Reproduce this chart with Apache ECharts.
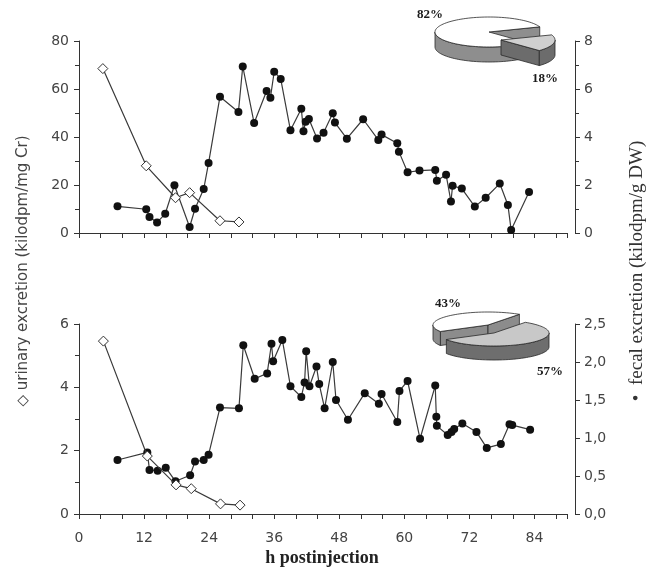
<!DOCTYPE html>
<html><head><meta charset="utf-8">
<script src="https://cdn.jsdelivr.net/npm/echarts@6/dist/echarts.min.js"></script>
<style>html,body{margin:0;padding:0;background:#fff}#c{width:652px;height:571px}</style>
</head><body><div id="c"></div>
<script>
// ---- data ----
const xTickLabels = [0, 12, 24, 36, 48, 60, 72, 84];

const topUrinH   = [4.4, 12.4, 17.8, 20.4, 26.0, 29.5];
const topUrinVal = [68.5, 28.0, 14.7, 16.8, 5.1, 4.6];

const topFecalH   = [7.1, 12.4, 13.0, 14.4, 15.9, 17.6, 20.4, 21.4, 23.0, 23.9, 26.0, 29.4, 30.2, 32.3, 34.6, 35.3, 36.0, 37.2, 39.0, 41.0, 41.4, 41.8, 42.4, 43.9, 45.1, 46.8, 47.2, 49.4, 52.4, 55.2, 55.8, 58.7, 59.0, 60.6, 62.8, 65.7, 66.0, 67.7, 68.6, 68.9, 70.6, 73.0, 75.0, 77.6, 79.1, 79.7, 83.0];
const topFecalVal = [1.11, 0.99, 0.67, 0.44, 0.80, 1.99, 0.25, 1.01, 1.83, 2.92, 5.68, 5.04, 6.94, 4.58, 5.92, 5.64, 6.72, 6.42, 4.28, 5.18, 4.24, 4.64, 4.75, 3.94, 4.18, 4.99, 4.60, 3.93, 4.74, 3.88, 4.10, 3.74, 3.39, 2.53, 2.60, 2.63, 2.18, 2.43, 1.31, 1.97, 1.85, 1.10, 1.47, 2.06, 1.17, 0.12, 1.71];

const botUrinH   = [4.5, 12.6, 17.9, 20.7, 26.1, 29.7];
const botUrinVal = [5.46, 1.83, 0.92, 0.80, 0.32, 0.28];

const botFecalH   = [7.1, 12.6, 13.0, 14.5, 16.0, 17.8, 20.5, 21.4, 23.0, 23.9, 26.0, 29.5, 30.3, 32.4, 34.7, 35.5, 35.8, 37.5, 39.0, 41.0, 41.6, 41.9, 42.5, 43.8, 44.3, 45.3, 46.8, 47.4, 49.6, 52.7, 55.3, 55.8, 58.7, 59.1, 60.6, 62.9, 65.7, 65.9, 66.0, 68.0, 68.7, 69.2, 70.7, 73.3, 75.2, 77.8, 79.4, 79.9, 83.2];
const botFecalVal = [0.71, 0.81, 0.58, 0.57, 0.61, 0.43, 0.51, 0.69, 0.71, 0.78, 1.40, 1.39, 2.22, 1.78, 1.85, 2.24, 2.01, 2.29, 1.68, 1.54, 1.73, 2.14, 1.68, 1.94, 1.71, 1.39, 2.00, 1.50, 1.24, 1.59, 1.45, 1.58, 1.21, 1.62, 1.75, 0.99, 1.69, 1.28, 1.16, 1.04, 1.08, 1.12, 1.19, 1.08, 0.87, 0.92, 1.18, 1.17, 1.11];

const topPie = [82, 18];
const botPie = [43, 57];

// ---- helpers ----
const zip = (a, b) => a.map((v, i) => [v, b[i]]);
const SANS = '"DejaVu Sans", sans-serif';
const SERIF = '"Liberation Serif", "Times New Roman", serif';
const AX = '#333';

function makePie(vals, cfg) {
  const total = vals.reduce((a, b) => a + b, 0);
  const starts = []; let acc = 0;
  vals.forEach(v => { starts.push(cfg.start + 360 * acc / total); acc += v; });
  return {
    type: 'custom', coordinateSystem: 'none', silent: true, animation: false, z: 10,
    data: vals.map(v => [v]),
    renderItem: function (params, api) {
      const i = params.dataIndex;
      const v = api.value(0);
      const a0 = starts[i], a1 = a0 + 360 * v / total;
      const off = cfg.offsets[i];
      const cx = cfg.cx + off[0], cy = cfg.cy + off[1], h = cfg.h;
      const rad = d => d * Math.PI / 180;
      const P = (d, dz) => [cx + cfg.rx * Math.cos(rad(d)), cy + cfg.ry * Math.sin(rad(d)) + (dz || 0)];
      const arc = (lo, hi, dz) => {
        const pts = []; const n = Math.max(2, Math.ceil((hi - lo) / 3));
        for (let k = 0; k <= n; k++) pts.push(P(lo + (hi - lo) * k / n, dz));
        return pts;
      };
      let z2 = i * 10;
      const poly = (pts, fill) => ({ type: 'polygon', z2: z2++, shape: { points: pts },
        style: { fill: fill, stroke: '#2a2a2a', lineWidth: 0.8, lineJoin: 'round' } });
      const ch = [];
      const side = cfg.side[i], topc = cfg.top[i];
      if (Math.cos(rad(a0)) < 0) ch.push(poly([[cx, cy], P(a0), P(a0, h), [cx, cy + h]], side));
      if (Math.cos(rad(a1)) > 0) ch.push(poly([[cx, cy], P(a1), P(a1, h), [cx, cy + h]], side));
      [-360, 0, 360].forEach(base => {
        const lo = Math.max(a0, base), hi = Math.min(a1, base + 180);
        if (hi > lo) ch.push(poly(arc(lo, hi, 0).concat(arc(lo, hi, h).reverse()), side));
      });
      ch.push(poly([[cx, cy]].concat(arc(a0, a1, 0)), topc));
      ch.push({ type: 'text', z2: z2++, x: cfg.labels[i][0], y: cfg.labels[i][1],
        style: { text: vals[i] + '%', font: 'bold 13px ' + SERIF, fill: '#1a1a1a', align: 'center', verticalAlign: 'middle' } });
      return { type: 'group', children: ch };
    }
  };
}

function xAx(gi, showLabels) {
  return {
    gridIndex: gi, type: 'value', min: 0, max: 90, interval: 4,
    axisLine: { show: true, onZero: false, lineStyle: { color: AX, width: 1 } },
    axisTick: { show: true, length: 5, lineStyle: { color: AX } },
    axisLabel: { show: showLabels, margin: 17, color: '#444', fontFamily: SANS, fontSize: 14,
      formatter: v => (xTickLabels.indexOf(v) >= 0 ? String(v) : '') },
    splitLine: { show: false }
  };
}
function yAx(gi, pos, max, interval, minor, fmt) {
  const o = {
    gridIndex: gi, type: 'value', position: pos, min: 0, max: max, interval: interval,
    offset: pos === 'right' ? 8 : 0,
    axisLine: { show: true, onZero: false, lineStyle: { color: AX, width: 1 } },
    axisTick: { show: true, length: 5, lineStyle: { color: AX } },
    minorTick: { show: minor, splitNumber: 2, length: 4, lineStyle: { color: AX } },
    axisLabel: { margin: pos === 'right' ? 9 : 10, color: '#444', fontFamily: SANS, fontSize: 14 },
    splitLine: { show: false }
  };
  if (fmt) o.axisLabel.formatter = fmt;
  return o;
}

const lineStyle = { color: '#3a3a3a', width: 1.2 };
const urinItem = { color: '#fff', borderColor: '#333', borderWidth: 1 };
const fecalItem = { color: '#111' };

const option = {
  animation: false,
  backgroundColor: '#fff',
  grid: [
    { left: 79, top: 41, width: 488, height: 192, containLabel: false },
    { left: 79, top: 324, width: 488, height: 190, containLabel: false }
  ],
  xAxis: [xAx(0, false), xAx(1, true)],
  yAxis: [
    yAx(0, 'left', 80, 20, true),
    yAx(0, 'right', 8, 2, true),
    yAx(1, 'left', 6, 2, true),
    yAx(1, 'right', 2.5, 0.5, false, v => v.toFixed(1).replace('.', ','))
  ],
  series: [
    { type: 'line', xAxisIndex: 0, yAxisIndex: 0, data: zip(topUrinH, topUrinVal), symbol: 'diamond', symbolSize: 10,
      showAllSymbol: true, lineStyle: lineStyle, itemStyle: urinItem, z: 3 },
    { type: 'line', xAxisIndex: 0, yAxisIndex: 1, data: zip(topFecalH, topFecalVal), symbol: 'circle', symbolSize: 8,
      showAllSymbol: true, lineStyle: lineStyle, itemStyle: fecalItem, z: 2 },
    { type: 'line', xAxisIndex: 1, yAxisIndex: 2, data: zip(botUrinH, botUrinVal), symbol: 'diamond', symbolSize: 10,
      showAllSymbol: true, lineStyle: lineStyle, itemStyle: urinItem, z: 3 },
    { type: 'line', xAxisIndex: 1, yAxisIndex: 3, data: zip(botFecalH, botFecalVal), symbol: 'circle', symbolSize: 8,
      showAllSymbol: true, lineStyle: lineStyle, itemStyle: fecalItem, z: 2 },
    makePie(topPie, { cx: 489, cy: 32, rx: 54, ry: 15, h: 15, start: 44.8,
      offsets: [[0, 0], [12, 8]], top: ['#ffffff', '#d0d0d0'], side: ['#8e8e8e', '#6c6c6c'],
      labels: [[430, 15], [545, 79]] }),
    makePie(botPie, { cx: 488, cy: 325, rx: 55, ry: 13, h: 14, start: 150,
      offsets: [[0, 0], [6, 8]], top: ['#ffffff', '#c8c8c8'], side: ['#8c8c8c', '#6e6e6e'],
      labels: [[448, 304], [550, 372]] })
  ],
  graphic: [
    { type: 'text', x: 23, y: 271, rotation: Math.PI / 2,
      style: { text: '\u25C7 urinary excretion (kilodpm/mg Cr)', font: '15px ' + SANS, fill: '#444', align: 'center', verticalAlign: 'middle' } },
    { type: 'text', x: 637, y: 271, rotation: Math.PI / 2,
      style: { text: '\u2022  fecal excretion (kilodpm/g DW)', font: '19px ' + SERIF, fill: '#333', align: 'center', verticalAlign: 'middle' } },
    { type: 'text', x: 322, y: 558,
      style: { text: 'h postinjection', font: 'bold 18px ' + SERIF, fill: '#222', align: 'center', verticalAlign: 'middle' } }
  ]
};

const chart = echarts.init(document.getElementById('c'), null, { renderer: 'canvas' });
chart.setOption(option);
</script></body></html>
